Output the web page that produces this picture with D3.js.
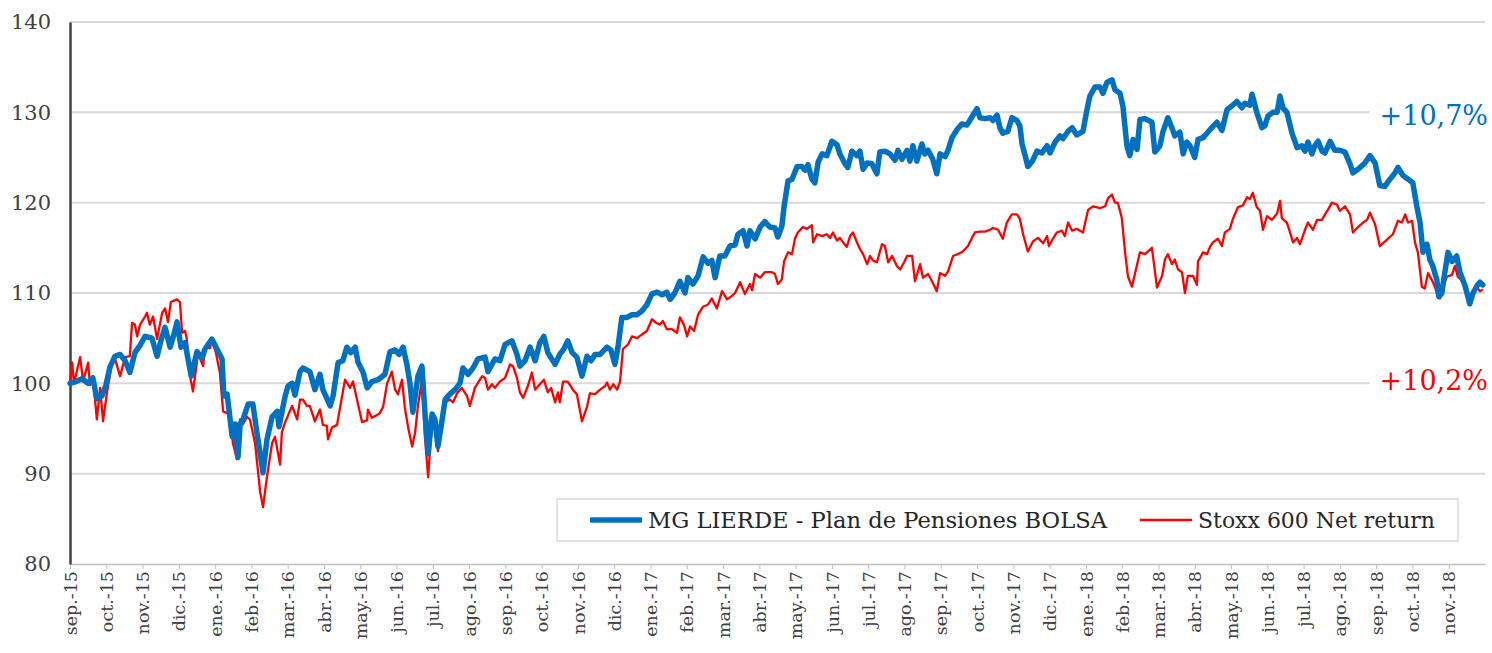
<!DOCTYPE html>
<html>
<head>
<meta charset="utf-8">
<script src="https://cdn.jsdelivr.net/npm/d3@7"></script>
<style>
  body { margin: 0; background: #fff; }
  svg { display: block; font-family: "DejaVu Serif", serif; }
</style>
</head>
<body>
<svg id="chart"></svg>
<script>
// meses desde sep.-15 (0 = inicio de sep.-15), valor base 100
var meses = ["sep.-15","oct.-15","nov.-15","dic.-15","ene.-16","feb.-16","mar.-16","abr.-16","may.-16","jun.-16",
  "jul.-16","ago.-16","sep.-16","oct.-16","nov.-16","dic.-16","ene.-17","feb.-17","mar.-17","abr.-17","may.-17",
  "jun.-17","jul.-17","ago.-17","sep.-17","oct.-17","nov.-17","dic.-17","ene.-18","feb.-18","mar.-18","abr.-18",
  "may.-18","jun.-18","jul.-18","ago.-18","sep.-18","oct.-18","nov.-18"];

var yTicks = [80, 90, 100, 110, 120, 130, 140];

var serieNombres = ["MG LIERDE - Plan de Pensiones BOLSA", "Stoxx 600 Net return"];
var rentabilidades = ["+10,7%", "+10,2%"];

var mgLierde = [
  [0,100],[0.17,100.2],[0.33,100.5],[0.5,100],[0.63,100.6],[0.74,98.3],[0.88,98.6],[0.99,99.8],
  [1.1,101.8],[1.24,103],[1.38,103.2],[1.52,102.5],[1.65,101.2],[1.79,103.4],[1.93,104.2],[2.07,105.2],
  [2.26,105],[2.4,103],[2.51,104.8],[2.62,106.2],[2.76,104],[2.87,105.5],[2.95,106.8],[3.06,104],
  [3.17,104.5],[3.34,100.8],[3.5,103.5],[3.64,102.8],[3.72,103.8],[3.91,104.9],[4.05,103.8],[4.19,102.7],
  [4.24,98.6],[4.33,98.8],[4.47,94.1],[4.55,95.5],[4.63,91.8],[4.69,95.5],[4.77,96],[4.91,97.7],
  [5.04,97.7],[5.15,94.6],[5.32,90.1],[5.43,93.8],[5.57,96.3],[5.71,96.9],[5.76,95.2],[5.93,98.6],
  [6.01,99.7],[6.12,100],[6.2,98.7],[6.34,101.3],[6.42,101.7],[6.61,101.3],[6.75,99.3],[6.89,101],
  [6.97,99.3],[7.17,97.5],[7.25,98.6],[7.39,102.3],[7.52,102.5],[7.63,104],[7.74,103.4],[7.86,104],
  [7.94,102.3],[8.08,101.2],[8.19,99.5],[8.32,100.2],[8.49,100.4],[8.68,101],[8.82,103.5],[8.96,103.7],
  [9.07,103.2],[9.18,104],[9.29,102],[9.37,100],[9.45,96.8],[9.59,100.8],[9.7,101.9],[9.78,97],
  [9.87,92.2],[9.98,96.6],[10.06,96],[10.14,93],[10.25,95.8],[10.34,98.2],[10.47,98.8],[10.61,99.3],
  [10.75,100],[10.83,101.7],[10.97,101],[11.11,101.7],[11.24,102.7],[11.44,102.9],[11.52,101.3],[11.71,102.7],
  [11.85,102.5],[11.99,104.3],[12.18,104.7],[12.32,103.2],[12.4,101.9],[12.54,102.5],[12.68,104],[12.82,102.5],
  [12.95,104.5],[13.06,105.2],[13.17,103.4],[13.37,102.1],[13.5,103.2],[13.61,103.8],[13.72,104.7],[13.84,103.4],
  [13.97,102.9],[14.11,100.8],[14.25,103],[14.36,102.5],[14.47,103.2],[14.61,103.2],[14.8,104],[14.91,103.7],
  [15.02,102.1],[15.1,103.9],[15.21,107.3],[15.35,107.3],[15.49,107.6],[15.63,107.6],[15.76,108],[15.9,108.7],
  [16.04,109.9],[16.18,110.1],[16.32,109.8],[16.45,110.1],[16.54,109.3],[16.67,110],[16.81,111.3],[16.95,110],
  [17.03,111.7],[17.17,111],[17.31,111.9],[17.45,114],[17.58,113.3],[17.69,113.6],[17.78,111.7],[17.91,114.1],
  [18.05,114.1],[18.19,115.2],[18.33,115.3],[18.41,116.5],[18.55,116.9],[18.66,115.2],[18.74,116.9],[18.88,116],
  [19.02,117.3],[19.15,117.9],[19.29,117.3],[19.43,117.2],[19.51,116.2],[19.62,117.4],[19.68,119.5],[19.79,122.4],
  [19.9,122.6],[20.04,124],[20.17,124],[20.26,123.6],[20.34,124.2],[20.45,122.6],[20.53,122.2],[20.62,124.5],
  [20.73,125.4],[20.86,125.2],[21,126.8],[21.14,126.4],[21.22,125.4],[21.36,124.3],[21.44,123.9],[21.55,125.7],
  [21.69,125.2],[21.77,125.7],[21.86,123.7],[21.97,124.4],[22.1,124.3],[22.24,123.2],[22.32,125.6],[22.46,125.7],
  [22.6,125.4],[22.74,124.7],[22.82,125.8],[22.93,124.8],[23.07,125.8],[23.15,124.6],[23.23,126.3],[23.34,124.6],
  [23.48,126.5],[23.56,125.4],[23.65,125.8],[23.78,124.8],[23.89,123.2],[23.98,125.4],[24.12,125.1],[24.2,125.8],
  [24.31,127.2],[24.45,128.1],[24.58,128.7],[24.72,128.6],[24.8,129.1],[24.89,129.7],[25,130.4],[25.08,129.4],
  [25.22,129.3],[25.36,129.4],[25.44,129.1],[25.55,129.7],[25.63,128.3],[25.71,127.7],[25.85,127.9],[25.96,129.4],
  [26.1,129.1],[26.18,128.5],[26.24,126.5],[26.32,125.3],[26.4,124],[26.54,124.7],[26.65,125.7],[26.79,125.5],
  [26.93,126.3],[27.01,125.5],[27.15,126.7],[27.29,127.4],[27.37,127.1],[27.51,127.9],[27.62,128.3],[27.75,127.5],
  [27.92,127.9],[28.03,130.3],[28.11,131.8],[28.25,132.8],[28.39,132.8],[28.47,132.1],[28.58,133.3],[28.72,133.6],
  [28.8,132.5],[28.94,132.1],[29.02,130.7],[29.13,126.3],[29.21,125.2],[29.3,127],[29.41,125.9],[29.49,129.2],
  [29.63,129.3],[29.82,128.9],[29.9,125.6],[30.04,126.3],[30.12,127.8],[30.26,129.4],[30.37,128.3],[30.45,127.4],
  [30.59,127.8],[30.68,125.4],[30.78,126.7],[30.87,126.3],[31,125],[31.09,127],[31.23,127.2],[31.36,127.8],
  [31.47,128.3],[31.61,128.9],[31.75,128],[31.89,130.3],[32.02,130.7],[32.16,131.2],[32.3,130.5],[32.38,131],
  [32.52,130.8],[32.58,132],[32.71,130],[32.85,128.3],[32.93,128.5],[33.02,129.6],[33.15,130],[33.27,130],
  [33.35,131.8],[33.43,130.5],[33.54,130],[33.68,127.7],[33.76,126.8],[33.82,126.1],[33.95,126.3],[34.04,125.7],
  [34.12,126.7],[34.23,125.4],[34.31,126.3],[34.4,126.8],[34.51,125.7],[34.59,125.5],[34.73,126.8],[34.86,125.8],
  [35,125.8],[35.14,125.6],[35.28,124.3],[35.36,123.3],[35.5,123.7],[35.69,124.4],[35.83,125.2],[35.97,124.4],
  [36.1,121.9],[36.24,121.8],[36.38,122.6],[36.52,123.3],[36.6,123.9],[36.74,123],[36.88,122.6],[37.01,122.2],
  [37.12,119.6],[37.21,117.8],[37.29,114.5],[37.4,115.4],[37.48,113.7],[37.56,113],[37.67,111.5],[37.73,109.6],
  [37.81,110],[37.89,112.2],[37.98,114.5],[38.09,113.5],[38.22,114.1],[38.31,112.3],[38.45,110.8],[38.58,108.8],
  [38.67,110],[38.78,110.8],[38.86,111.2],[38.94,110.9]
];

var stoxx600 = [
  [0,100],[0.06,102.3],[0.11,100],[0.28,102.9],[0.36,100.2],[0.5,102.3],[0.55,99.8],[0.63,100.8],
  [0.74,96],[0.83,99.5],[0.91,95.8],[1.02,99],[1.16,102.3],[1.24,102.7],[1.38,100.8],[1.52,102.9],
  [1.65,103],[1.71,106.7],[1.79,106.5],[1.85,105.2],[1.93,106.5],[2.07,107.4],[2.12,107.8],[2.2,106.5],
  [2.29,107.4],[2.4,104.9],[2.54,107.8],[2.62,108.3],[2.7,106.8],[2.78,109],[2.95,109.3],[3.03,109],
  [3.09,105.6],[3.17,105.8],[3.22,104.9],[3.31,100.8],[3.39,99.1],[3.53,103.3],[3.67,101.9],[3.72,104],
  [3.86,103.9],[3.91,104.9],[4.02,103.4],[4.13,101.2],[4.22,96.9],[4.33,96.7],[4.41,97.1],[4.49,93.4],
  [4.6,91.6],[4.69,96],[4.77,95.5],[4.88,96.3],[4.96,96],[5.1,93.4],[5.24,88],[5.32,86.3],
  [5.43,89.7],[5.57,93.4],[5.65,94.1],[5.79,91],[5.84,94.6],[5.93,95.7],[6.12,97.5],[6.26,96],
  [6.34,98.2],[6.42,98.2],[6.53,97.5],[6.61,97.5],[6.75,95.8],[6.89,97.1],[6.97,95.4],[7.08,95.3],
  [7.11,93.8],[7.22,95.1],[7.36,95.4],[7.5,98.6],[7.58,100.4],[7.72,99.5],[7.8,100.2],[7.91,98.2],
  [8.05,95.7],[8.19,95.9],[8.21,97.1],[8.32,96.2],[8.46,96.5],[8.54,96.7],[8.63,97.4],[8.74,100],
  [8.87,101.3],[8.96,99.3],[9.04,98.8],[9.15,100.4],[9.23,97.3],[9.32,95.1],[9.43,93],[9.51,94.5],
  [9.59,97.5],[9.7,100.4],[9.78,94.2],[9.87,89.6],[9.98,95.7],[10.06,95.5],[10.14,92.5],[10.25,95.1],
  [10.34,97.9],[10.47,98.2],[10.56,97.9],[10.67,98.9],[10.8,99.5],[10.94,98.6],[11.02,97.5],[11.16,99.5],
  [11.36,100.8],[11.44,100.6],[11.52,99.3],[11.63,99.9],[11.71,99.5],[11.85,100.2],[11.99,100.6],[12.13,102.1],
  [12.21,101.9],[12.32,100.6],[12.4,99],[12.49,98.4],[12.62,99.7],[12.73,101.2],[12.82,99.3],[12.95,99.9],
  [13.06,100.4],[13.17,99],[13.26,99.5],[13.37,97.9],[13.45,99],[13.5,97.9],[13.59,100.2],[13.72,100.2],
  [13.86,99.3],[13.97,98.8],[14.06,96.9],[14.11,95.8],[14.25,97.4],[14.33,98.9],[14.47,98.8],[14.61,99.3],
  [14.75,99.7],[14.8,100.1],[14.88,99.3],[14.97,99.9],[15.08,99.3],[15.16,100.2],[15.24,103.8],[15.38,104.3],
  [15.49,105.2],[15.63,105],[15.76,105.4],[15.9,105.8],[16.04,107.1],[16.15,106.7],[16.26,106.5],[16.34,106.9],
  [16.45,106],[16.59,106],[16.73,105.6],[16.81,107.3],[16.92,106.5],[17.01,105.2],[17.09,106.3],[17.2,105.8],
  [17.31,107.6],[17.45,108.5],[17.58,108.7],[17.69,109.4],[17.83,108.3],[17.97,110.2],[18.11,109.3],[18.22,109.6],
  [18.33,110],[18.47,111.2],[18.6,109.9],[18.74,111],[18.8,110.3],[18.88,112.1],[19.02,111.7],[19.15,112.3],
  [19.35,112.3],[19.43,112.1],[19.51,111],[19.62,111.5],[19.68,113.5],[19.79,114.5],[19.9,114.3],[19.98,116],
  [20.06,116.7],[20.2,117.3],[20.31,117.1],[20.45,117.5],[20.48,115.6],[20.59,116.5],[20.73,116.3],[20.86,116.5],
  [20.95,116.1],[21.03,116.7],[21.14,115.8],[21.22,116.1],[21.31,115.6],[21.41,115.1],[21.5,116.3],[21.58,116.7],
  [21.69,115.6],[21.77,114.9],[21.86,114.3],[21.97,113.2],[22.05,114.1],[22.13,113.6],[22.24,113.4],[22.38,115.4],
  [22.46,115.2],[22.55,113.4],[22.66,114.1],[22.79,113],[22.88,112.6],[22.99,113.4],[23.07,114.1],[23.21,114.1],
  [23.29,111.3],[23.43,113.2],[23.51,111.7],[23.65,112.1],[23.76,111.3],[23.89,110.2],[23.98,112.2],[24.12,111.9],
  [24.2,112.4],[24.34,114.1],[24.47,114.3],[24.61,114.6],[24.75,115.2],[24.86,116.1],[24.94,116.7],[25.08,116.8],
  [25.22,116.8],[25.36,117],[25.44,117.2],[25.58,117],[25.71,116],[25.82,117.8],[25.96,118.7],[26.1,118.7],
  [26.18,118.2],[26.27,116.5],[26.4,114.6],[26.54,115.7],[26.68,116.1],[26.82,115.5],[26.93,116.3],[26.98,115.2],
  [27.09,116],[27.2,116.7],[27.34,116.9],[27.42,116.3],[27.51,117.8],[27.62,116.9],[27.75,117.1],[27.92,116.7],
  [28.06,119.2],[28.2,119.6],[28.39,119.4],[28.53,119.6],[28.61,120.5],[28.72,120.9],[28.8,120],[28.88,120],
  [28.99,118.3],[29.08,114.5],[29.16,111.8],[29.27,110.7],[29.35,112.1],[29.49,114.5],[29.63,114.3],[29.82,115],
  [29.96,110.6],[30.1,111.9],[30.18,113.7],[30.26,114.3],[30.37,113.2],[30.45,113.7],[30.54,112.6],[30.65,112.3],
  [30.73,110],[30.81,111.9],[30.95,111.9],[31.06,110.9],[31.09,113.5],[31.23,114.5],[31.34,114.3],[31.42,115.1],
  [31.5,115.6],[31.64,116],[31.75,115.2],[31.83,116.7],[31.97,117.1],[32.05,118.2],[32.19,119.5],[32.33,119.7],
  [32.44,120.6],[32.52,120.4],[32.6,121.1],[32.71,119.5],[32.8,119.1],[32.88,117],[32.99,118.5],[33.13,118.1],
  [33.27,118.8],[33.35,120.2],[33.4,118.3],[33.54,117.8],[33.62,116.8],[33.71,115.6],[33.82,116.1],[33.9,115.4],
  [34.04,117],[34.12,117.8],[34.26,117],[34.37,118.1],[34.51,118.1],[34.59,118.7],[34.67,119.2],[34.78,120],
  [34.92,119.8],[35,119.1],[35.14,119.6],[35.28,118.7],[35.36,116.7],[35.5,117.3],[35.64,117.8],[35.75,118.1],
  [35.83,118.9],[35.97,117.6],[36.1,115.2],[36.3,115.9],[36.46,116.5],[36.6,118],[36.71,117.8],[36.8,118.7],
  [36.88,117.8],[36.99,118],[37.07,115.6],[37.15,114.5],[37.26,110.7],[37.34,110.5],[37.43,112.2],[37.54,111.4],
  [37.62,110.7],[37.7,109.6],[37.76,109.4],[37.84,110.7],[37.95,111.8],[38.09,112],[38.17,113],[38.25,111.8],
  [38.36,111.4],[38.45,110.4],[38.58,109.5],[38.67,110.2],[38.78,110.6],[38.86,110.2],[38.94,110.4]
];

var colores = ["#0070C0", "#FF0000"];

var W = 1492, H = 653;
var margin = { top: 22, right: 7, bottom: 89, left: 70 };
var width = W - margin.left - margin.right;
var height = H - margin.top - margin.bottom;

var svg = d3.select("#chart").attr("width", W).attr("height", H);
var g = svg.append("g").attr("transform", "translate(" + margin.left + "," + margin.top + ")");

var x = d3.scaleLinear().domain([0, meses.length]).range([0, width]);
var y = d3.scaleLinear().domain([80, 140]).range([height, 0]);

// rejilla horizontal
g.append("g").selectAll("line").data(yTicks.slice(1)).join("line")
  .attr("x1", 0).attr("x2", width)
  .attr("y1", function(d) { return y(d); }).attr("y2", function(d) { return y(d); })
  .attr("stroke", "#d9d9d9").attr("stroke-width", 2);

// eje X
var xAxis = g.append("g").attr("transform", "translate(0," + height + ")")
  .call(d3.axisBottom(x).tickValues(d3.range(meses.length)).tickFormat(function(i) { return meses[i]; })
    .tickSize(5).tickSizeOuter(0));
xAxis.select(".domain").attr("stroke", "#bfbfbf").attr("stroke-width", 1.5);
xAxis.selectAll(".tick line").attr("stroke", "#bfbfbf");
xAxis.selectAll("text")
  .attr("font-family", "DejaVu Serif").attr("font-size", 17.5).attr("fill", "#404040")
  .attr("text-anchor", "end").attr("transform", "rotate(-90)")
  .attr("x", -7).attr("y", 0).attr("dy", "0.35em");

// eje Y
var yAxis = g.append("g").call(d3.axisLeft(y).tickValues(yTicks).tickSize(0).tickPadding(19));
yAxis.select(".domain").attr("stroke", "#404040").attr("stroke-width", 2.5);
yAxis.selectAll("text").attr("font-family", "DejaVu Serif").attr("font-size", 21).attr("fill", "#404040");

var line = d3.line().x(function(d) { return x(d[0]); }).y(function(d) { return y(d[1]); });

g.append("path").datum(stoxx600).attr("fill", "none").attr("stroke", colores[1])
  .attr("stroke-width", 2.3).attr("stroke-linejoin", "round").attr("d", line);
g.append("path").datum(mgLierde).attr("fill", "none").attr("stroke", colores[0])
  .attr("stroke-width", 5.5).attr("stroke-linejoin", "round").attr("stroke-linecap", "round").attr("d", line);

// etiquetas de rentabilidad
var etiq = [
  { t: rentabilidades[0], v: 128.6, c: colores[0] },
  { t: rentabilidades[1], v: 99.3, c: colores[1] }
];
etiq.forEach(function(e) {
  var eg = g.append("g");
  var fondo = eg.append("rect").attr("fill", "#fff");
  var tx = eg.append("text").attr("x", width + 3).attr("y", y(e.v)).attr("text-anchor", "end")
    .attr("font-family", "DejaVu Serif").attr("font-size", 27).attr("fill", e.c).text(e.t);
  var bb = tx.node().getBBox();
  fondo.attr("x", bb.x - 10).attr("y", bb.y).attr("width", bb.width + 10).attr("height", bb.height);
});

// leyenda
var lg = g.append("g").attr("transform", "translate(" + (557 - margin.left) + "," + (499 - margin.top) + ")");
lg.append("rect").attr("width", 901).attr("height", 42).attr("fill", "#fff")
  .attr("stroke", "#d9d9d9").attr("stroke-width", 1.5);
var items = [
  { x: 33, w: 5.5, c: colores[0], t: serieNombres[0], len: 459 },
  { x: 583, w: 2.3, c: colores[1], t: serieNombres[1], len: 237 }
];
items.forEach(function(it) {
  lg.append("line").attr("x1", it.x).attr("x2", it.x + 52).attr("y1", 21).attr("y2", 21)
    .attr("stroke", it.c).attr("stroke-width", it.w);
  lg.append("text").attr("x", it.x + 58).attr("y", 21).attr("dy", "0.35em")
    .attr("font-family", "DejaVu Serif").attr("font-size", 21.5).attr("fill", "#262626")
    .attr("textLength", it.len).attr("lengthAdjust", "spacingAndGlyphs").text(it.t);
});
</script>
</body>
</html>
